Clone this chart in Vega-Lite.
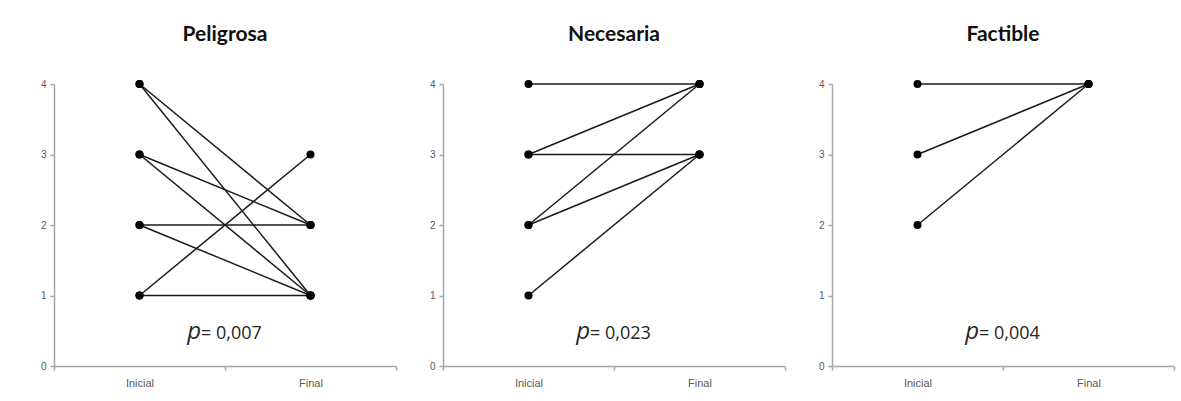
{
  "$schema": "https://vega.github.io/schema/vega-lite/v6.json",
  "background": "white",
  "padding": {"left": 40, "top": 24, "right": 5, "bottom": 5},
  "spacing": 32,
  "datasets": {
    "pares": [
      {"escala": "Peligrosa", "sujeto": 1, "momento": "Inicial", "valor": 4},
      {"escala": "Peligrosa", "sujeto": 1, "momento": "Final", "valor": 2},
      {"escala": "Peligrosa", "sujeto": 2, "momento": "Inicial", "valor": 4},
      {"escala": "Peligrosa", "sujeto": 2, "momento": "Final", "valor": 1},
      {"escala": "Peligrosa", "sujeto": 3, "momento": "Inicial", "valor": 3},
      {"escala": "Peligrosa", "sujeto": 3, "momento": "Final", "valor": 2},
      {"escala": "Peligrosa", "sujeto": 4, "momento": "Inicial", "valor": 3},
      {"escala": "Peligrosa", "sujeto": 4, "momento": "Final", "valor": 1},
      {"escala": "Peligrosa", "sujeto": 5, "momento": "Inicial", "valor": 2},
      {"escala": "Peligrosa", "sujeto": 5, "momento": "Final", "valor": 2},
      {"escala": "Peligrosa", "sujeto": 6, "momento": "Inicial", "valor": 2},
      {"escala": "Peligrosa", "sujeto": 6, "momento": "Final", "valor": 1},
      {"escala": "Peligrosa", "sujeto": 7, "momento": "Inicial", "valor": 1},
      {"escala": "Peligrosa", "sujeto": 7, "momento": "Final", "valor": 3},
      {"escala": "Peligrosa", "sujeto": 8, "momento": "Inicial", "valor": 1},
      {"escala": "Peligrosa", "sujeto": 8, "momento": "Final", "valor": 1},
      {"escala": "Necesaria", "sujeto": 1, "momento": "Inicial", "valor": 4},
      {"escala": "Necesaria", "sujeto": 1, "momento": "Final", "valor": 4},
      {"escala": "Necesaria", "sujeto": 2, "momento": "Inicial", "valor": 3},
      {"escala": "Necesaria", "sujeto": 2, "momento": "Final", "valor": 4},
      {"escala": "Necesaria", "sujeto": 3, "momento": "Inicial", "valor": 3},
      {"escala": "Necesaria", "sujeto": 3, "momento": "Final", "valor": 3},
      {"escala": "Necesaria", "sujeto": 4, "momento": "Inicial", "valor": 2},
      {"escala": "Necesaria", "sujeto": 4, "momento": "Final", "valor": 4},
      {"escala": "Necesaria", "sujeto": 5, "momento": "Inicial", "valor": 2},
      {"escala": "Necesaria", "sujeto": 5, "momento": "Final", "valor": 3},
      {"escala": "Necesaria", "sujeto": 6, "momento": "Inicial", "valor": 1},
      {"escala": "Necesaria", "sujeto": 6, "momento": "Final", "valor": 3},
      {"escala": "Factible", "sujeto": 1, "momento": "Inicial", "valor": 4},
      {"escala": "Factible", "sujeto": 1, "momento": "Final", "valor": 4},
      {"escala": "Factible", "sujeto": 2, "momento": "Inicial", "valor": 3},
      {"escala": "Factible", "sujeto": 2, "momento": "Final", "valor": 4},
      {"escala": "Factible", "sujeto": 3, "momento": "Inicial", "valor": 2},
      {"escala": "Factible", "sujeto": 3, "momento": "Final", "valor": 4}
    ],
    "pvalores": [
      {"escala": "Peligrosa", "p": "= 0,007"},
      {"escala": "Necesaria", "p": "= 0,023"},
      {"escala": "Factible", "p": "= 0,004"}
    ]
  },
  "config": {
    "view": {"stroke": null},
    "font": "Liberation Sans",
    "title": {
      "font": "Lato",
      "fontSize": 21,
      "fontWeight": "bold",
      "color": "#111111",
      "anchor": "middle",
      "offset": 34
    },
    "axis": {
      "domainColor": "#a6a6a6",
      "domainWidth": 1.5,
      "tickColor": "#a6a6a6",
      "tickWidth": 1.5,
      "tickSize": 4,
      "labelColor": "#595959",
      "labelFont": "Liberation Sans",
      "grid": false,
      "title": null
    },
    "axisX": {"labelFontSize": 11, "labelPadding": 7, "labelAngle": 0, "tickBand": "extent"},
    "axisY": {"labelFontSize": 10, "labelPadding": 4, "format": "d"}
  },
  "hconcat": [
    {
      "title": "Peligrosa",
      "width": 342,
      "height": 282,
      "layer": [
        {
          "data": {"name": "pares"},
          "transform": [{"filter": "datum.escala === 'Peligrosa'"}],
          "mark": {"type": "line", "color": "#1a1a1a", "strokeWidth": 1.5},
          "encoding": {
            "x": {"field": "momento", "type": "nominal", "scale": {"type": "band", "domain": ["Inicial", "Final"], "paddingInner": 0, "paddingOuter": 0}},
            "y": {"field": "valor", "type": "quantitative", "scale": {"domain": [0, 4], "nice": false}, "axis": {"values": [0, 1, 2, 3, 4]}},
            "detail": {"field": "sujeto"}
          }
        },
        {
          "data": {"name": "pares"},
          "transform": [{"filter": "datum.escala === 'Peligrosa'"}],
          "mark": {"type": "circle", "color": "#000000", "size": 65, "opacity": 1},
          "encoding": {
            "x": {"field": "momento", "type": "nominal"},
            "y": {"field": "valor", "type": "quantitative"}
          }
        },
        {
          "data": {"name": "pvalores"},
          "transform": [{"filter": "datum.escala === 'Peligrosa'"}],
          "mark": {"type": "text", "text": "p", "font": "Open Sans", "fontStyle": "italic", "fontSize": 24, "align": "right", "baseline": "alphabetic", "dx": -24, "color": "#262626"},
          "encoding": {
            "x": {"datum": "Final", "type": "nominal", "bandPosition": 0},
            "y": {"datum": 0.38, "type": "quantitative"}
          }
        },
        {
          "data": {"name": "pvalores"},
          "transform": [{"filter": "datum.escala === 'Peligrosa'"}],
          "mark": {"type": "text", "font": "Open Sans", "fontSize": 18, "align": "left", "baseline": "alphabetic", "dx": -24, "color": "#262626"},
          "encoding": {
            "x": {"datum": "Final", "type": "nominal", "bandPosition": 0},
            "y": {"datum": 0.38, "type": "quantitative"},
            "text": {"field": "p"}
          }
        }
      ]
    },
    {
      "title": "Necesaria",
      "width": 342,
      "height": 282,
      "layer": [
        {
          "data": {"name": "pares"},
          "transform": [{"filter": "datum.escala === 'Necesaria'"}],
          "mark": {"type": "line", "color": "#1a1a1a", "strokeWidth": 1.5},
          "encoding": {
            "x": {"field": "momento", "type": "nominal", "scale": {"type": "band", "domain": ["Inicial", "Final"], "paddingInner": 0, "paddingOuter": 0}},
            "y": {"field": "valor", "type": "quantitative", "scale": {"domain": [0, 4], "nice": false}, "axis": {"values": [0, 1, 2, 3, 4]}},
            "detail": {"field": "sujeto"}
          }
        },
        {
          "data": {"name": "pares"},
          "transform": [{"filter": "datum.escala === 'Necesaria'"}],
          "mark": {"type": "circle", "color": "#000000", "size": 65, "opacity": 1},
          "encoding": {
            "x": {"field": "momento", "type": "nominal"},
            "y": {"field": "valor", "type": "quantitative"}
          }
        },
        {
          "data": {"name": "pvalores"},
          "transform": [{"filter": "datum.escala === 'Necesaria'"}],
          "mark": {"type": "text", "text": "p", "font": "Open Sans", "fontStyle": "italic", "fontSize": 24, "align": "right", "baseline": "alphabetic", "dx": -24, "color": "#262626"},
          "encoding": {
            "x": {"datum": "Final", "type": "nominal", "bandPosition": 0},
            "y": {"datum": 0.38, "type": "quantitative"}
          }
        },
        {
          "data": {"name": "pvalores"},
          "transform": [{"filter": "datum.escala === 'Necesaria'"}],
          "mark": {"type": "text", "font": "Open Sans", "fontSize": 18, "align": "left", "baseline": "alphabetic", "dx": -24, "color": "#262626"},
          "encoding": {
            "x": {"datum": "Final", "type": "nominal", "bandPosition": 0},
            "y": {"datum": 0.38, "type": "quantitative"},
            "text": {"field": "p"}
          }
        }
      ]
    },
    {
      "title": "Factible",
      "width": 342,
      "height": 282,
      "layer": [
        {
          "data": {"name": "pares"},
          "transform": [{"filter": "datum.escala === 'Factible'"}],
          "mark": {"type": "line", "color": "#1a1a1a", "strokeWidth": 1.5},
          "encoding": {
            "x": {"field": "momento", "type": "nominal", "scale": {"type": "band", "domain": ["Inicial", "Final"], "paddingInner": 0, "paddingOuter": 0}},
            "y": {"field": "valor", "type": "quantitative", "scale": {"domain": [0, 4], "nice": false}, "axis": {"values": [0, 1, 2, 3, 4]}},
            "detail": {"field": "sujeto"}
          }
        },
        {
          "data": {"name": "pares"},
          "transform": [{"filter": "datum.escala === 'Factible'"}],
          "mark": {"type": "circle", "color": "#000000", "size": 65, "opacity": 1},
          "encoding": {
            "x": {"field": "momento", "type": "nominal"},
            "y": {"field": "valor", "type": "quantitative"}
          }
        },
        {
          "data": {"name": "pvalores"},
          "transform": [{"filter": "datum.escala === 'Factible'"}],
          "mark": {"type": "text", "text": "p", "font": "Open Sans", "fontStyle": "italic", "fontSize": 24, "align": "right", "baseline": "alphabetic", "dx": -24, "color": "#262626"},
          "encoding": {
            "x": {"datum": "Final", "type": "nominal", "bandPosition": 0},
            "y": {"datum": 0.38, "type": "quantitative"}
          }
        },
        {
          "data": {"name": "pvalores"},
          "transform": [{"filter": "datum.escala === 'Factible'"}],
          "mark": {"type": "text", "font": "Open Sans", "fontSize": 18, "align": "left", "baseline": "alphabetic", "dx": -24, "color": "#262626"},
          "encoding": {
            "x": {"datum": "Final", "type": "nominal", "bandPosition": 0},
            "y": {"datum": 0.38, "type": "quantitative"},
            "text": {"field": "p"}
          }
        }
      ]
    }
  ]
}
